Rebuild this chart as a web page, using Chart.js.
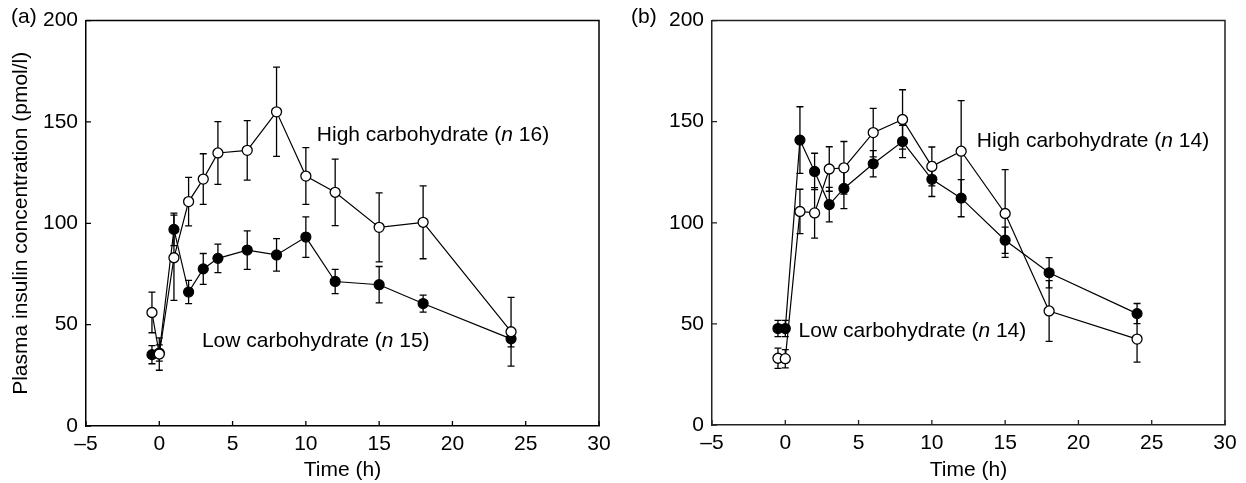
<!DOCTYPE html>
<html><head><meta charset="utf-8">
<script src="https://cdn.jsdelivr.net/npm/chart.js@4.4.1/dist/chart.umd.min.js"></script>
<style>
html,body{margin:0;padding:0;background:#fff;width:1246px;height:483px;overflow:hidden;}
.wrap{position:absolute;top:0;height:483px;width:623px;}
#wa{left:0;} #wb{left:623px;}
</style></head><body>
<div class="wrap" id="wa"><canvas id="ca" width="623" height="483"></canvas></div>
<div class="wrap" id="wb"><canvas id="cb" width="623" height="483"></canvas></div>
<script>
// ---- data ----
const times = [-0.5, 0, 1, 2, 3, 4, 6, 8, 10, 12, 15, 18, 24];
const xTickValues = [-5, 0, 5, 10, 15, 20, 25, 30];
const yTickValues = [0, 50, 100, 150, 200];

// Panel (a)
const aLow     = [35.2, 36, 97, 66.1, 77.5, 82.7, 86.8, 84.4, 93.2, 71.3, 69.7, 60.4, 43];
const aLowErr  = [4.5, 4, 8, 5.7, 7.6, 7, 9.5, 8, 10, 6, 9, 4.2, 4];
const aHigh    = [56, 35.5, 83, 110.7, 121.8, 134.7, 136, 155, 123.3, 115.3, 98, 100.5, 46.5];
const aHighErr = [10, 8, 21, 12, 12.5, 15.5, 14.7, 22, 14, 16.4, 17, 18, 17];

// Panel (b)
const bLow     = [47.7, 47.7, 140.9, 125.4, 109, 117, 129.2, 140.2, 121.5, 112.2, 91.4, 75.3, 55.1];
const bLowErr  = [4, 4, 16.5, 9, 8.5, 10, 6.5, 8, 8.5, 9.2, 6.5, 7.5, 5];
const bHigh    = [33, 32.8, 105.6, 104.9, 126.6, 127.2, 144.6, 151.1, 127.9, 135.4, 104.6, 56.4, 42.5];
const bHighErr = [5, 4.5, 11, 12.5, 11, 13, 12, 14.7, 9.6, 25, 21.7, 15, 11.4];

const FONT = "'Liberation Sans', Arial, Helvetica, sans-serif";
const FS = 21;
Chart.defaults.font.family = FONT;
Chart.defaults.font.size = FS;
Chart.defaults.color = '#000';

const toPts = (vals) => vals.map((v, i) => ({x: times[i], y: v}));

const errorBars = {
  id: 'errorBars',
  beforeDatasetsDraw(chart) {
    const {ctx, scales: {x, y}} = chart;
    ctx.save();
    ctx.strokeStyle = '#000';
    ctx.lineWidth = 1.3;
    chart.data.datasets.forEach(ds => {
      if (!ds.errors) return;
      ds.data.forEach((p, i) => {
        const e = ds.errors[i];
        const px = x.getPixelForValue(p.x);
        const yt = y.getPixelForValue(p.y + e);
        const yb = y.getPixelForValue(p.y - e);
        ctx.beginPath();
        ctx.moveTo(px, yt); ctx.lineTo(px, yb);
        ctx.moveTo(px - 3.5, yt); ctx.lineTo(px + 3.5, yt);
        ctx.moveTo(px - 3.5, yb); ctx.lineTo(px + 3.5, yb);
        ctx.stroke();
      });
    });
    ctx.restore();
  }
};

const frame = {
  id: 'frame',
  afterDraw(chart, args, opts) {
    const {ctx, chartArea: a, scales: {x, y}} = chart;
    ctx.save();
    ctx.strokeStyle = opts.color || '#000';
    ctx.lineWidth = 1.5;
    ctx.beginPath();
    ctx.moveTo(a.left, a.top); ctx.lineTo(a.right, a.top); ctx.lineTo(a.right, a.bottom);
    ctx.stroke();
    ctx.lineWidth = 1.3;
    ctx.beginPath();
    x.ticks.forEach(t => {
      const px = x.getPixelForValue(t.value);
      ctx.moveTo(px, a.bottom); ctx.lineTo(px, a.bottom - 5);
    });
    y.ticks.forEach(t => {
      const py = y.getPixelForValue(t.value);
      ctx.moveTo(a.left, py); ctx.lineTo(a.left + 5, py);
    });
    ctx.stroke();
    // panel letter
    ctx.fillStyle = '#000';
    ctx.font = FS + 'px ' + FONT;
    ctx.textBaseline = 'middle';
    ctx.textAlign = 'left';
    ctx.fillText(opts.letter, opts.letterX, opts.letterY);
    // annotations
    (opts.notes || []).forEach(n => {
      let px = x.getPixelForValue(n.x);
      const py = y.getPixelForValue(n.y);
      n.parts.forEach(([txt, it]) => {
        ctx.font = (it ? 'italic ' : '') + FS + 'px ' + FONT;
        ctx.fillText(txt, px, py);
        px += ctx.measureText(txt).width;
      });
    });
    ctx.restore();
  }
};

function makePanel(id, low, lowErr, high, highErr, cfg) {
  return new Chart(document.getElementById(id), {
    type: 'line',
    data: {
      datasets: [
        { label: 'High carbohydrate', data: toPts(high), errors: highErr,
          borderColor: '#000', borderWidth: 1.2, backgroundColor: '#fff',
          pointBackgroundColor: '#fff', pointBorderColor: '#000', pointRadius: 5, pointBorderWidth: 1.3, tension: 0 },
        { label: 'Low carbohydrate', data: toPts(low), errors: lowErr,
          borderColor: '#000', borderWidth: 1.2, backgroundColor: '#000',
          pointBackgroundColor: '#000', pointBorderColor: '#000', pointRadius: 5, pointBorderWidth: 1.2, tension: 0 }
      ]
    },
    options: {
      responsive: false, animation: false, devicePixelRatio: 1,
      layout: { padding: cfg.padding },
      plugins: { legend: { display: false }, tooltip: { enabled: false },
        frame: { letter: cfg.letter, letterX: cfg.letterX, letterY: cfg.letterY, notes: cfg.notes, color: cfg.frameColor } },
      scales: {
        x: {
          type: 'linear', min: -5, max: 30,
          afterBuildTicks: s => { s.ticks = xTickValues.map(v => ({value: v})); },
          afterFit: s => { s.height = cfg.xHeight; },
          grid: { drawOnChartArea: false, drawTicks: false },
          border: { display: true, color: cfg.frameColor, width: 1.5 },
          ticks: { padding: 6, color: '#000', font: { size: FS },
            callback: v => v < 0 ? '\u2013' + Math.abs(v) : String(v) },
          title: { display: true, text: 'Time (h)', color: '#000', font: { size: FS }, padding: { top: 0, bottom: 0 } }
        },
        y: {
          type: 'linear', min: 0, max: 200,
          afterBuildTicks: s => { s.ticks = yTickValues.map(v => ({value: v})); },
          afterFit: s => { s.width = cfg.yWidth; },
          grid: { drawOnChartArea: false, drawTicks: false },
          border: { display: true, color: cfg.frameColor, width: 1.5 },
          ticks: { padding: 8, color: '#000', font: { size: FS } },
          title: { display: cfg.yTitle, text: 'Plasma insulin concentration (pmol/l)', color: '#000',
            font: { size: FS }, padding: { top: 9, bottom: 0 } }
        }
      }
    },
    plugins: [errorBars, frame]
  });
}

makePanel('ca', aLow, aLowErr, aHigh, aHighErr, {
  padding: { left: 0, top: 17, right: 24, bottom: 0 }, xHeight: 57, yWidth: 86, yTitle: true,
  letter: '(a)', letterX: 11, letterY: 17, frameColor: '#000',
  notes: [
    { x: 10.75, y: 143.3, parts: [['High carbohydrate (', false], ['n', true], [' 16)', false]] },
    { x: 2.91, y: 41.7, parts: [['Low carbohydrate (', false], ['n', true], [' 15)', false]] }
  ]
});
makePanel('cb', bLow, bLowErr, bHigh, bHighErr, {
  padding: { left: 0, top: 16, right: 21, bottom: 0 }, xHeight: 58, yWidth: 89, yTitle: false,
  letter: '(b)', letterX: 8, letterY: 17, frameColor: '#222',
  notes: [
    { x: 13.07, y: 140.5, parts: [['High carbohydrate (', false], ['n', true], [' 14)', false]] },
    { x: 0.91, y: 46.6, parts: [['Low carbohydrate (', false], ['n', true], [' 14)', false]] }
  ]
});
</script>
</body></html>
